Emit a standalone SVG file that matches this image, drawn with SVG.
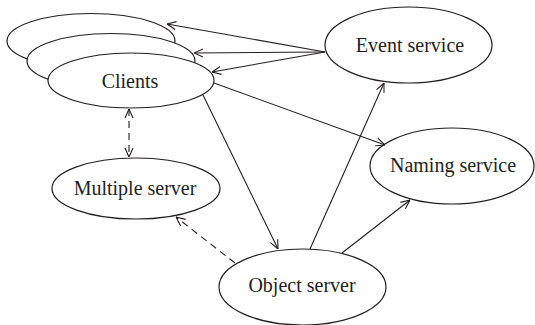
<svg xmlns="http://www.w3.org/2000/svg" width="535" height="325" viewBox="0 0 535 325">
<style>
.node ellipse{fill:#fff;stroke:#231f20;stroke-width:1.2}
.node text{font-family:"Liberation Serif","Times New Roman",serif;font-size:20px;fill:#231f20;text-anchor:middle}
.edge{stroke:#231f20;stroke-width:1.1;fill:none}
.dash{stroke-dasharray:7,5}
</style>
<defs>
<marker id="arr" viewBox="0 0 10 10" refX="10" refY="5" markerWidth="10" markerHeight="10" markerUnits="userSpaceOnUse" orient="auto-start-reverse">
<path d="M1,1 L10,5 L1,9" fill="none" stroke="#231f20" stroke-width="1.1"/>
</marker>
</defs>
<rect width="535" height="325" fill="#fff"/>
<g id="clients" class="node">
<ellipse cx="91" cy="41" rx="84" ry="27.5"/>
<ellipse cx="111" cy="61" rx="84" ry="27.5"/>
<ellipse cx="131" cy="80.5" rx="83" ry="27.5"/>
<text x="130" y="88">Clients</text>
</g>
<g id="event" class="node">
<ellipse cx="408.5" cy="45" rx="83.5" ry="38"/>
<text x="410" y="52">Event service</text>
</g>
<g id="naming" class="node">
<ellipse cx="452" cy="166" rx="82" ry="38"/>
<text x="453" y="172">Naming service</text>
</g>
<g id="multiple" class="node">
<ellipse cx="136" cy="188.5" rx="84" ry="30.5"/>
<text x="135" y="195">Multiple server</text>
</g>
<g id="object" class="node">
<ellipse cx="302.5" cy="287" rx="83.5" ry="38"/>
<text x="302" y="292">Object server</text>
</g>
<g id="connectors">
<line class="edge" x1="325" y1="52" x2="167" y2="24" marker-end="url(#arr)"/>
<line class="edge" x1="325" y1="52" x2="194" y2="53" marker-end="url(#arr)"/>
<line class="edge" x1="325" y1="52" x2="212" y2="72" marker-end="url(#arr)"/>
<line class="edge" x1="214" y1="83" x2="385" y2="145" marker-end="url(#arr)"/>
<line class="edge" x1="203" y1="95" x2="278" y2="249" marker-end="url(#arr)"/>
<line class="edge" x1="310" y1="249" x2="384" y2="83" marker-end="url(#arr)"/>
<line class="edge" x1="342" y1="253" x2="410" y2="200" marker-end="url(#arr)"/>
<line class="edge dash" x1="235" y1="263" x2="176" y2="217" marker-end="url(#arr)"/>
<line class="edge dash" x1="129" y1="109" x2="129" y2="157" marker-start="url(#arr)" marker-end="url(#arr)"/>
</g>
</svg>
